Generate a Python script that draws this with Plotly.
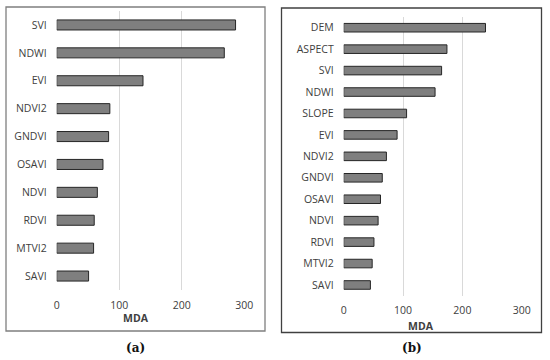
import plotly.graph_objects as go

W, H = 550, 360

cats_a = ["SVI", "NDWI", "EVI", "NDVI2", "GNDVI", "OSAVI", "NDVI", "RDVI", "MTVI2", "SAVI"]
vals_a = [286, 268, 138, 85, 83, 74, 65, 60, 59, 51]

cats_b = ["DEM", "ASPECT", "SVI", "NDWI", "SLOPE", "EVI", "NDVI2", "GNDVI", "OSAVI",
          "NDVI", "RDVI", "MTVI2", "SAVI"]
vals_b = [239, 174, 165, 154, 106, 90, 72, 65, 62, 58, 51, 48, 45]

x_ticks = [0, 100, 200, 300]
axis_title = "MDA"
panel_labels = ["(a)", "(b)"]

FONT = "Open Sans"
TXT = "#404040"

def px(x):
    return x / W

def py(y):
    return 1 - y / H

fig = go.Figure()
fig.add_trace(go.Bar(x=vals_a, y=cats_a, orientation="h", width=0.36,
                     marker=dict(color="#7f7f7f", line=dict(color="#262626", width=1)),
                     xaxis="x", yaxis="y", showlegend=False))
fig.add_trace(go.Bar(x=vals_b, y=cats_b, orientation="h", width=0.4,
                     marker=dict(color="#7f7f7f", line=dict(color="#262626", width=1)),
                     xaxis="x2", yaxis="y2", showlegend=False))

xcommon = dict(range=[0, 300], tickvals=x_ticks, showgrid=True, gridcolor="#d9d9d9",
               gridwidth=1, zeroline=False, showline=False, ticks="", automargin=False,
               tickfont=dict(family=FONT, size=10.5, color=TXT), ticklabelstandoff=7,
               fixedrange=True)
ycommon = dict(showgrid=False, zeroline=False, showline=False, ticks="", automargin=False,
               tickfont=dict(family=FONT, size=10.5, color=TXT), ticklabelstandoff=9,
               autorange="reversed", type="category")

def ann(text, x, y, family, size, color):
    return dict(text=text, x=px(x), y=py(y), xref="paper", yref="paper",
                xanchor="center", yanchor="middle", showarrow=False,
                font=dict(family=family, size=size, color=color))

fig.update_layout(
    width=W, height=H,
    margin=dict(l=0, r=0, t=0, b=0),
    paper_bgcolor="white", plot_bgcolor="white",
    bargap=0.6,
    xaxis=dict(domain=[px(56.7), px(244.3)], anchor="y", **xcommon),
    yaxis=dict(domain=[py(290), py(11)], anchor="x", **ycommon),
    xaxis2=dict(domain=[px(343.7), px(521.7)], anchor="y2", **xcommon),
    yaxis2=dict(domain=[py(295.7), py(17)], anchor="x2", **ycommon),
    shapes=[
        dict(type="rect", xref="paper", yref="paper", x0=px(6), x1=px(265),
             y0=py(331), y1=py(7), line=dict(color="#7f7f7f", width=1.3)),
        dict(type="rect", xref="paper", yref="paper", x0=px(281.5), x1=px(541.5),
             y0=py(332.5), y1=py(8), line=dict(color="#404040", width=1.3)),
    ],
    annotations=[
        ann("<b>" + axis_title + "</b>", 136, 318, FONT, 10.5, TXT),
        ann("<b>" + axis_title + "</b>", 420.7, 325.7, FONT, 10.5, TXT),
        ann("<b>" + panel_labels[0] + "</b>", 135, 348, "DejaVu Serif", 12, "#111111"),
        ann("<b>" + panel_labels[1] + "</b>", 411.7, 348, "DejaVu Serif", 12, "#111111"),
    ],
)

fig.write_html("out.html", config={"displayModeBar": False},
               post_script="document.body.style.margin='0';document.body.style.overflow='hidden';")
